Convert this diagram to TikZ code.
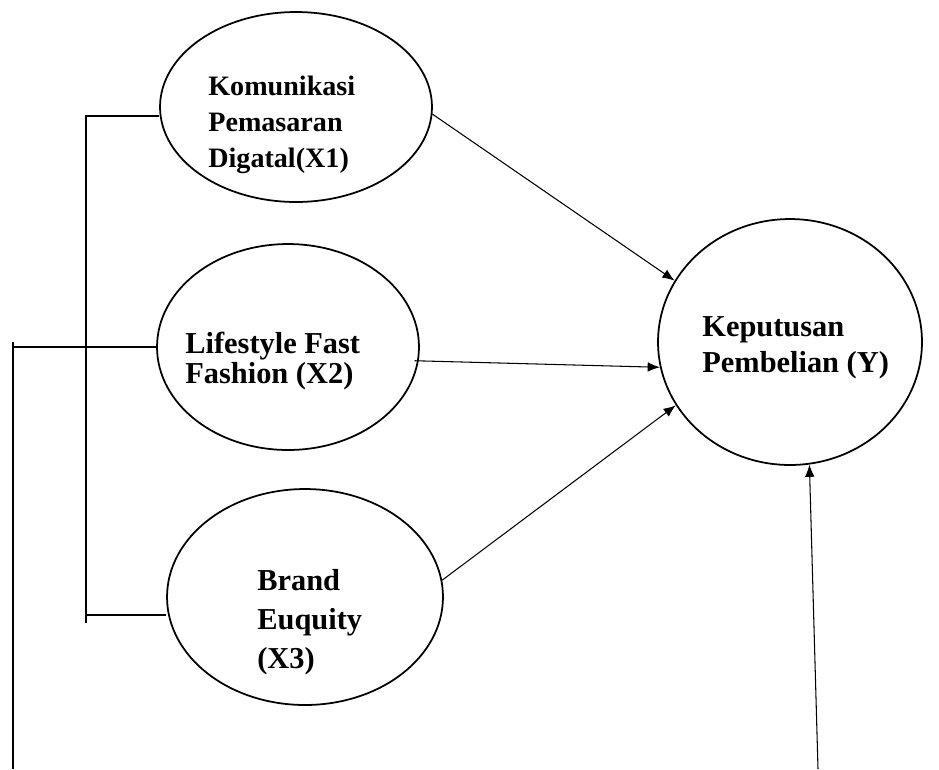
\documentclass[tikz,border=0pt]{standalone}
\usepackage{fontspec}
\setmainfont{Liberation Serif}
\usetikzlibrary{shapes.geometric,arrows.meta,positioning,calc}

\tikzset{
  var/.style={draw, ellipse, line width=1pt, inner sep=0pt},
  lbl/.style={anchor=north west, inner sep=0pt, align=left, font=\bfseries},
  link/.style={line width=0.9pt},
  path/.style={-{Latex[length=7pt,width=5.5pt]}, line width=0.6pt}
}

\begin{document}
\begin{tikzpicture}[x=0.02cm, y=-0.02cm]
            \useasboundingbox (0,0) rectangle (939,769);
            % Variables
            \node[var, minimum width=5.44cm, minimum height=3.8cm] (x1) at (296,107) {};
            \node[var, minimum width=5.24cm, minimum height=4.12cm] (x2) at (288,347) {};
            \node[var, minimum width=5.52cm, minimum height=4.32cm] (x3) at (305,597) {};
            \node[var, minimum width=5.28cm, minimum height=4.92cm] (y) at (790,342) {};
            
            % Labels
            \node[lbl, font=\bfseries\fontsize{16}{20.5}\selectfont] (x1txt) at (208,76) {Komunikasi\\Pemasaran\\Digatal(X1)};
            \node[lbl, font=\bfseries\fontsize{17.3}{16.8}\selectfont] (x2txt) at (185,332) {Lifestyle Fast\\Fashion (X2)};
            \node[lbl, font=\bfseries\fontsize{17.3}{22.2}\selectfont] (x3txt) at (257,569) {Brand\\Euquity\\(X3)};
            \node[lbl, font=\bfseries\fontsize{17.3}{20.5}\selectfont] (ytxt) at (702,316) {Keputusan\\Pembelian (Y)};
            
            % Bracket
            \coordinate (bkt1) at (86,116);
            \coordinate (bkt2) at (86,347);
            \coordinate (bkt3) at (86,615);
            \coordinate (bktend) at (86,623);
            \coordinate (outtop) at (13,342);
            \coordinate (outbot) at (13,769);
            \coordinate (ybot) at (818,769);
            \draw[link] (x1.west |- bkt1) -- (bkt1) -- (bktend);
            \draw[link] (bkt3) -- (bkt3 -| x3.west);
            \draw[link] (x2.west) -- (bkt2) -- (bkt2 -| outtop);
            \draw[link] (outtop) -- (outbot);
            
            % Arrows
            \draw[path] (x1.-3) -- (y.152);
            \draw[path] ($(x2.-6)+(-4,0)$) -- (y.191);
            \draw[path] (x3.7) -- (y.209);
            \draw[path] (ybot) -- (y.-81);
        \end{tikzpicture}
\end{document}
